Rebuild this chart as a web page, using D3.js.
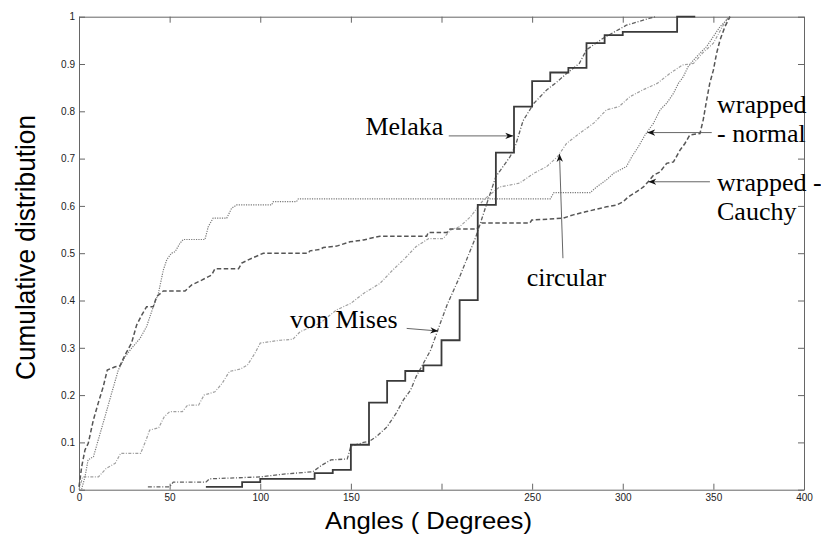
<!DOCTYPE html>
<html>
<head>
<meta charset="utf-8">
<script src="https://cdn.jsdelivr.net/npm/d3@7"></script>
<style>
  html, body { margin: 0; padding: 0; background: #fff; }
  svg { display: block; }
  .tick text { font-family: "Liberation Sans", Arial, sans-serif; font-size: 10px; fill: #222; }
  .tick line, .domain { stroke: #666; stroke-width: 1; }
  .note { font-family: "Liberation Serif", "Times New Roman", serif; font-size: 26px; fill: #000; }
  .axis-title { font-family: "Liberation Sans", Arial, sans-serif; fill: #000; }
</style>
</head>
<body>
<svg id="chart" width="821" height="536"></svg>
<script>
"use strict";
// axis ticks
const xTicks = [0, 50, 100, 150, 200, 250, 300, 350, 400];
const xTickLabels = ["0", "50", "100", "150", "", "250", "300", "350", "400"];
const yTicks = [0, 0.1, 0.2, 0.3, 0.4, 0.5, 0.6, 0.7, 0.8, 0.9, 1];
const yTickLabels = ["0", "0.1", "0.2", "0.3", "0.4", "0.5", "0.6", "0.7", "0.8", "0.9", "1"];

// observed data (empirical cdf, steps)
const melakaAngle = [70, 90, 100, 130, 140, 150, 160, 170, 180, 190, 200, 210, 220, 230, 240, 250, 260, 270, 280, 290, 300, 330, 340];
const melakaCdf = [0.006, 0.016, 0.023, 0.035, 0.042, 0.095, 0.184, 0.230, 0.251, 0.263, 0.316, 0.401, 0.602, 0.7125, 0.81, 0.864, 0.882, 0.892, 0.944, 0.961, 0.968, 1.0, 1.0];

// fitted models
const vonMisesAngle = [38, 50, 52, 70, 72, 100, 113, 129, 134, 139, 148, 150, 157, 160, 164, 170, 175, 179, 183, 186, 190, 194, 198, 203, 210, 219, 225, 230, 238, 241, 245, 251, 258, 264, 269, 276, 280, 289, 302, 315, 318];
const vonMisesCdf = [0.006, 0.006, 0.016, 0.016, 0.023, 0.027, 0.033, 0.038, 0.052, 0.063, 0.065, 0.092, 0.100, 0.102, 0.112, 0.133, 0.162, 0.19, 0.211, 0.239, 0.267, 0.295, 0.338, 0.39, 0.45, 0.535, 0.605, 0.662, 0.705, 0.73, 0.78, 0.817, 0.845, 0.863, 0.88, 0.901, 0.93, 0.954, 0.982, 0.997, 1.0];

const circularAngle = [0, 2, 10.7, 15, 20, 23, 34, 37, 39, 44, 47, 50, 57, 60, 66, 69, 75, 79, 83, 89, 93, 97, 100, 111, 118, 122, 133, 142, 150, 157, 166, 173, 179, 186, 193, 201, 205, 210, 216, 223, 232, 243, 251, 258, 264, 269, 276, 284, 291, 298, 304, 311, 319, 326, 333, 339, 344, 350, 354, 357, 359];
const circularCdf = [0, 0.027, 0.027, 0.045, 0.056, 0.077, 0.077, 0.105, 0.126, 0.131, 0.154, 0.165, 0.165, 0.179, 0.179, 0.2, 0.207, 0.225, 0.25, 0.255, 0.264, 0.288, 0.31, 0.316, 0.318, 0.334, 0.352, 0.38, 0.394, 0.415, 0.436, 0.464, 0.486, 0.514, 0.531, 0.531, 0.549, 0.556, 0.577, 0.612, 0.64, 0.648, 0.669, 0.683, 0.704, 0.732, 0.753, 0.775, 0.803, 0.81, 0.831, 0.845, 0.859, 0.88, 0.898, 0.901, 0.923, 0.944, 0.972, 0.993, 1.0];

const wrappedNormalAngle = [0, 1.5, 3.3, 5, 8, 10.6, 14.3, 18, 21.7, 25.4, 29, 33.7, 37.3, 41, 43.8, 46.5, 48.4, 51, 53, 55.7, 57.5, 69.5, 71.3, 74, 81.5, 84.2, 87, 106.3, 107.2, 120, 121, 260, 262, 282, 285.6, 291, 295, 302, 305, 308.6, 312.3, 317, 320.6, 324.2, 328, 330.7, 333.4, 336, 339, 342.6, 346.3, 350, 353.7, 357.4, 359.2];
const wrappedNormalCdf = [0, 0.002, 0.027, 0.063, 0.07, 0.105, 0.154, 0.204, 0.253, 0.281, 0.299, 0.32, 0.345, 0.387, 0.415, 0.464, 0.486, 0.5, 0.503, 0.521, 0.529, 0.529, 0.556, 0.574, 0.574, 0.595, 0.602, 0.602, 0.609, 0.609, 0.615, 0.615, 0.628, 0.628, 0.64, 0.655, 0.669, 0.683, 0.704, 0.725, 0.75, 0.775, 0.803, 0.817, 0.838, 0.859, 0.873, 0.894, 0.908, 0.923, 0.937, 0.958, 0.979, 0.993, 1.0];

const wrappedCauchyAngle = [0, 1.5, 3.3, 5.1, 7.9, 10.6, 13.4, 15.6, 20, 22.6, 25.4, 29, 31.8, 34.6, 37.3, 41, 42.8, 46.5, 58.5, 62.2, 67.7, 73.2, 75, 88, 89.8, 93.4, 101.7, 126.5, 127.4, 133, 134.8, 142.2, 149.5, 157, 166, 191.8, 192.7, 203, 204.7, 219.4, 222.2, 248.8, 249.8, 267, 272.7, 280, 285.6, 291, 296.7, 300.3, 303, 307.7, 311.4, 314, 317, 320.6, 324.2, 328, 331.6, 334.3, 337, 342.6, 344.4, 346.3, 348, 350, 351.8, 353.7, 356.4, 359.2];
const wrappedCauchyCdf = [0.006, 0.049, 0.084, 0.098, 0.147, 0.183, 0.218, 0.253, 0.26, 0.262, 0.285, 0.31, 0.348, 0.369, 0.387, 0.387, 0.408, 0.42, 0.42, 0.433, 0.443, 0.454, 0.467, 0.467, 0.479, 0.486, 0.5, 0.5, 0.505, 0.508, 0.512, 0.515, 0.524, 0.528, 0.536, 0.536, 0.544, 0.544, 0.551, 0.551, 0.564, 0.564, 0.57, 0.574, 0.581, 0.588, 0.593, 0.598, 0.602, 0.609, 0.619, 0.63, 0.64, 0.651, 0.665, 0.672, 0.69, 0.693, 0.718, 0.732, 0.75, 0.753, 0.782, 0.824, 0.859, 0.887, 0.923, 0.951, 0.979, 1.0];

const svg = d3.select("#chart");
const x = d3.scaleLinear().domain([0, 400]).range([79, 804]);
const y = d3.scaleLinear().domain([0, 1]).range([489.7, 16.7]);

// box with inward ticks on all four sides (matlab style)
svg.append("g")
    .attr("transform", `translate(0,${y(0)})`)
    .call(d3.axisBottom(x).tickValues(xTicks).tickFormat((d, i) => xTickLabels[i])
        .tickSizeInner(-6).tickSizeOuter(0).tickPadding(4));
svg.append("g")
    .attr("transform", `translate(0,${y(1)})`)
    .call(d3.axisTop(x).tickValues(xTicks).tickFormat("").tickSizeInner(-6).tickSizeOuter(0));
svg.append("g")
    .attr("transform", `translate(${x(0)},0)`)
    .call(d3.axisLeft(y).tickValues(yTicks).tickFormat((d, i) => yTickLabels[i])
        .tickSizeInner(-6).tickSizeOuter(0).tickPadding(4));
svg.append("g")
    .attr("transform", `translate(${x(400)},0)`)
    .call(d3.axisRight(y).tickValues(yTicks).tickFormat("").tickSizeInner(-6).tickSizeOuter(0));

const series = [
    { angle: circularAngle, cdf: circularCdf, color: "#a0a0a0", width: 1.2, dash: "3,1.5,1,1.5", curve: d3.curveLinear },
    { angle: wrappedNormalAngle, cdf: wrappedNormalCdf, color: "#7a7a7a", width: 1.2, dash: "1.2,1.2", curve: d3.curveLinear },
    { angle: wrappedCauchyAngle, cdf: wrappedCauchyCdf, color: "#555", width: 1.5, dash: "4.5,2.5", curve: d3.curveLinear },
    { angle: vonMisesAngle, cdf: vonMisesCdf, color: "#606060", width: 1.3, dash: "4,1.8,1,1.8", curve: d3.curveLinear },
    { angle: melakaAngle, cdf: melakaCdf, color: "#3a3a3a", width: 1.8, dash: null, curve: d3.curveStepAfter }
];

const linesG = svg.append("g").attr("fill", "none");
series.forEach((s) => {
    const line = d3.line().curve(s.curve).x((d) => x(d[0])).y((d) => y(d[1]));
    linesG.append("path")
        .attr("d", line(d3.zip(s.angle, s.cdf)))
        .attr("stroke", s.color)
        .attr("stroke-width", s.width)
        .attr("stroke-dasharray", s.dash);
});

// arrow head
svg.append("defs").append("marker")
    .attr("id", "head")
    .attr("viewBox", "0 0 10 10")
    .attr("refX", 10).attr("refY", 5)
    .attr("markerWidth", 8).attr("markerHeight", 8)
    .attr("markerUnits", "userSpaceOnUse")
    .attr("orient", "auto")
    .append("path")
    .attr("d", "M0,1 L10,5 L0,9 L3,5 Z")
    .attr("fill", "#111");

// annotations, placed in data units (angle, cdf)
const notes = [
    { lines: ["Melaka"], at: [158, 0.75], from: [204, 0.748], to: [239.6, 0.748] },
    { lines: ["von Mises"], at: [116.4, 0.341], from: [180.8, 0.341], to: [198.2, 0.3355] },
    { lines: ["circular"], at: [247, 0.4307], from: [267, 0.4894], to: [265.1, 0.7098] },
    { lines: ["wrapped", "- normal"], at: [352, 0.796], from: [349.1, 0.755], to: [313.5, 0.755] },
    { lines: ["wrapped -", "Cauchy"], at: [352, 0.6315], from: [348.1, 0.651], to: [314.1, 0.651] }
];
const notesG = svg.append("g");
notes.forEach((n) => {
    notesG.append("line")
        .attr("x1", x(n.from[0])).attr("y1", y(n.from[1]))
        .attr("x2", x(n.to[0])).attr("y2", y(n.to[1]))
        .attr("stroke", "#555").attr("stroke-width", 0.9)
        .attr("marker-end", "url(#head)");
    const t = notesG.append("text").attr("class", "note");
    n.lines.forEach((ln, i) => {
        t.append("tspan").attr("x", x(n.at[0])).attr("y", y(n.at[1]) + i * 29).text(ln);
    });
});

// axis titles
svg.append("text")
    .attr("class", "axis-title")
    .attr("x", 428.5).attr("y", 529)
    .attr("text-anchor", "middle")
    .attr("font-size", 24)
    .attr("textLength", 207).attr("lengthAdjust", "spacingAndGlyphs")
    .text("Angles ( Degrees)");
svg.append("text")
    .attr("class", "axis-title")
    .attr("transform", "translate(35,247.5) rotate(-90)")
    .attr("text-anchor", "middle")
    .attr("font-size", 28)
    .attr("textLength", 265).attr("lengthAdjust", "spacingAndGlyphs")
    .text("Cumulative distribution");
</script>
</body>
</html>
